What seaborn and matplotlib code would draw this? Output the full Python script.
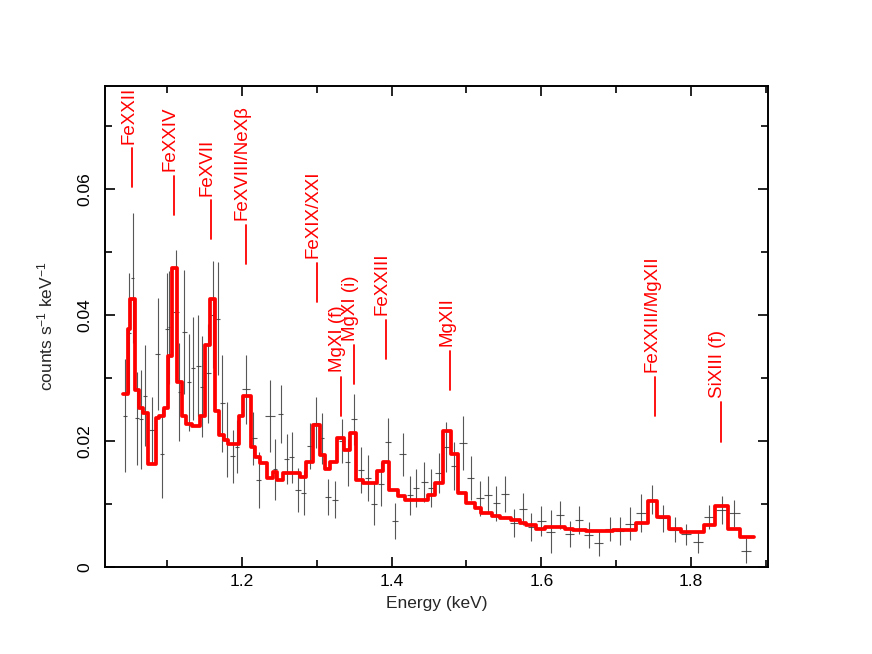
import numpy as np
import pandas as pd
import matplotlib
matplotlib.use("Agg")
import matplotlib.pyplot as plt
from matplotlib.ticker import MultipleLocator
import seaborn as sns

# model: step function (bin edges in keV, model value per bin)
model_edges = [1.0407, 1.0474, 1.0505, 1.0571, 1.0625, 1.0682, 1.0741, 1.0852, 1.0896, 1.0963,
               1.1016, 1.1061, 1.1136, 1.1195, 1.1252, 1.1328, 1.1439, 1.1506, 1.1573, 1.1640,
               1.1697, 1.1760, 1.1817, 1.1964, 1.2017, 1.2120, 1.2174, 1.2240, 1.2330, 1.2410,
               1.2463, 1.2551, 1.2774, 1.2861, 1.2948, 1.3041, 1.3108, 1.3179, 1.3275, 1.3368,
               1.3442, 1.3522, 1.3620, 1.3806, 1.3886, 1.3967, 1.4087, 1.4176, 1.4487, 1.4577,
               1.4688, 1.4800, 1.4888, 1.5000, 1.5111, 1.5200, 1.5347, 1.5445, 1.5601, 1.5712,
               1.5801, 1.5935, 1.6045, 1.6312, 1.6419, 1.6602, 1.6953, 1.7047, 1.7260, 1.7425,
               1.7545, 1.7705, 1.7871, 1.8173, 1.8328, 1.8493, 1.8662, 1.8849]
model_vals = [0.0275, 0.0377, 0.0425, 0.0281, 0.0252, 0.0244, 0.0163, 0.0236, 0.0240, 0.0252,
              0.0335, 0.0475, 0.0294, 0.0239, 0.0227, 0.0224, 0.0239, 0.0352, 0.0425, 0.0247,
              0.0210, 0.0202, 0.0195, 0.0240, 0.0272, 0.0191, 0.0175, 0.0165, 0.0141, 0.0150,
              0.0138, 0.0149, 0.0142, 0.0167, 0.0225, 0.0178, 0.0155, 0.0166, 0.0205, 0.0186,
              0.0213, 0.0138, 0.0133, 0.0153, 0.0166, 0.0122, 0.0112, 0.0106, 0.0114, 0.0133,
              0.0216, 0.0180, 0.0118, 0.0102, 0.0093, 0.0085, 0.0081, 0.0077, 0.0075, 0.0070,
              0.0067, 0.0060, 0.0064, 0.0061, 0.0059, 0.0057, 0.0058, 0.0059, 0.0070, 0.0104,
              0.0080, 0.0061, 0.0055, 0.0067, 0.0097, 0.0061, 0.0047]

# observed spectrum
data_e = [1.0438, 1.0495, 1.0541, 1.0602, 1.0652, 1.0705, 1.0794, 1.0874, 1.0936, 1.0995,
          1.1025, 1.1115, 1.1163, 1.1230, 1.1292, 1.1350, 1.1417, 1.1470, 1.1550, 1.1609,
          1.1676, 1.1740, 1.1804, 1.1876, 1.1937, 1.2053, 1.2151, 1.2227, 1.2374, 1.2441,
          1.2517, 1.2597, 1.2664, 1.2752, 1.2828, 1.2908, 1.2988, 1.3064, 1.3152, 1.3242,
          1.3331, 1.3411, 1.3499, 1.3589, 1.3678, 1.3766, 1.3856, 1.3953, 1.4043, 1.4146,
          1.4243, 1.4332, 1.4434, 1.4533, 1.4630, 1.4733, 1.4834, 1.4955, 1.5057, 1.5178,
          1.5288, 1.5401, 1.5521, 1.5636, 1.5756, 1.5868, 1.6001, 1.6126, 1.6250, 1.6379,
          1.6503, 1.6637, 1.6770, 1.6913, 1.7047, 1.7190, 1.7337, 1.7478, 1.7625, 1.7781,
          1.7937, 1.8092, 1.8248, 1.8418, 1.8582, 1.8738]
data_y = [0.0240, 0.0371, 0.0458, 0.0236, 0.0234, 0.0272, 0.0217, 0.0338, 0.0180, 0.0377,
          0.0380, 0.0405, 0.0278, 0.0373, 0.0293, 0.0315, 0.0319, 0.0286, 0.0307, 0.0400,
          0.0394, 0.0260, 0.0202, 0.0176, 0.0191, 0.0282, 0.0204, 0.0138, 0.0240, 0.0155,
          0.0243, 0.0171, 0.0174, 0.0122, 0.0118, 0.0192, 0.0229, 0.0204, 0.0111, 0.0107,
          0.0200, 0.0166, 0.0234, 0.0154, 0.0141, 0.0100, 0.0132, 0.0199, 0.0073, 0.0179,
          0.0114, 0.0125, 0.0135, 0.0125, 0.0149, 0.0190, 0.0160, 0.0197, 0.0141, 0.0109,
          0.0115, 0.0101, 0.0116, 0.0070, 0.0092, 0.0064, 0.0073, 0.0056, 0.0083, 0.0052,
          0.0075, 0.0051, 0.0038, 0.0061, 0.0057, 0.0069, 0.0086, 0.0107, 0.0077, 0.0059,
          0.0052, 0.0040, 0.0080, 0.0090, 0.0085, 0.0026]
data_err = [0.0090, 0.0095, 0.0103, 0.0074, 0.0078, 0.0080, 0.0053, 0.0089, 0.0070, 0.0089,
            0.0090, 0.0098, 0.0078, 0.0098, 0.0077, 0.0082, 0.0080, 0.0080, 0.0079, 0.0085,
            0.0090, 0.0077, 0.0060, 0.0042, 0.0042, 0.0055, 0.0042, 0.0045, 0.0057, 0.0048,
            0.0046, 0.0040, 0.0040, 0.0035, 0.0036, 0.0037, 0.0040, 0.0040, 0.0028, 0.0030,
            0.0035, 0.0037, 0.0040, 0.0036, 0.0036, 0.0034, 0.0035, 0.0038, 0.0028, 0.0034,
            0.0031, 0.0030, 0.0032, 0.0030, 0.0032, 0.0040, 0.0038, 0.0043, 0.0035, 0.0028,
            0.0029, 0.0028, 0.0029, 0.0022, 0.0026, 0.0022, 0.0024, 0.0034, 0.0022, 0.0021,
            0.0022, 0.0021, 0.0020, 0.0019, 0.0022, 0.0026, 0.0030, 0.0023, 0.0021, 0.0020,
            0.0017, 0.0017, 0.0019, 0.0022, 0.0021, 0.0020]

# line identifications
line_names = ["FeXXII", "FeXXIV", "FeXVII", "FeXVIII/NeX\u03b2", "FeXIX/XXI", "MgXI (f)",
              "MgXI (i)", "FeXXIII", "MgXII", "FeXXIII/MgXII", "SiXIII (f)"]
line_e = [1.0535, 1.1092, 1.1586, 1.2053, 1.2997, 1.3322, 1.3495, 1.3923, 1.4786, 1.7523, 1.8405]
line_y0 = [0.0602, 0.0559, 0.0520, 0.0481, 0.0421, 0.0240, 0.0290, 0.0330, 0.0281, 0.0240, 0.0199]

sns.set_style("ticks")
plt.rcParams["font.family"] = ["Liberation Sans", "DejaVu Sans"]
plt.rcParams["mathtext.default"] = "regular"

fig = plt.figure(figsize=(8.72, 6.54), dpi=100)
ax = fig.add_axes([105 / 872, 1 - 567 / 654, (768 - 105) / 872, (567 - 86) / 654])

# data crosses
half_w = np.diff(data_e)
half_w = np.concatenate([[half_w[0]], half_w]) / 2
ax.errorbar(data_e, data_y, yerr=data_err, xerr=half_w * 0.9, fmt="none",
            ecolor="#3a3a3a", elinewidth=0.8, alpha=0.85, zorder=2)

# model
mdf = pd.DataFrame({"E": model_edges, "model": model_vals + [model_vals[-1]]})
sns.lineplot(data=mdf, x="E", y="model", drawstyle="steps-post", color="red",
             linewidth=2.7, ax=ax, zorder=3)

# line labels
for name, e, y0 in zip(line_names, line_e, line_y0):
    ax.plot([e, e], [y0, y0 + 0.0062], color="red", lw=1.3, zorder=4)
    ax.text(e + 0.0012, y0 + 0.0069, name, rotation=90, rotation_mode="anchor",
            ha="left", va="baseline", color="red", fontsize=13.5)

ax.set_xlim(1.017, 1.903)
ax.set_ylim(0, 0.0763)
ax.xaxis.set_major_locator(MultipleLocator(0.2))
ax.xaxis.set_minor_locator(MultipleLocator(0.1))
ax.set_yticks([0, 0.02, 0.04, 0.06])
ax.set_yticklabels(["0", "0.02", "0.04", "0.06"], rotation=90, va="center")
ax.yaxis.set_minor_locator(MultipleLocator(0.01))
ax.tick_params(which="both", direction="in", top=True, right=True, width=1.2,
               labelsize=12.5, colors="black")
ax.tick_params(which="major", length=7)
ax.tick_params(which="minor", length=5)
ax.tick_params(axis="y", pad=9)
ax.tick_params(axis="x", pad=5)
for s in ax.spines.values():
    s.set_linewidth(1.4)
    s.set_color("black")

ax.set_xlabel("Energy (keV)", fontsize=12.5, labelpad=5)
ax.set_ylabel("counts s$^{-1}$ keV$^{-1}$", fontsize=12.5, labelpad=16)

fig.savefig("out.png", dpi=100)
